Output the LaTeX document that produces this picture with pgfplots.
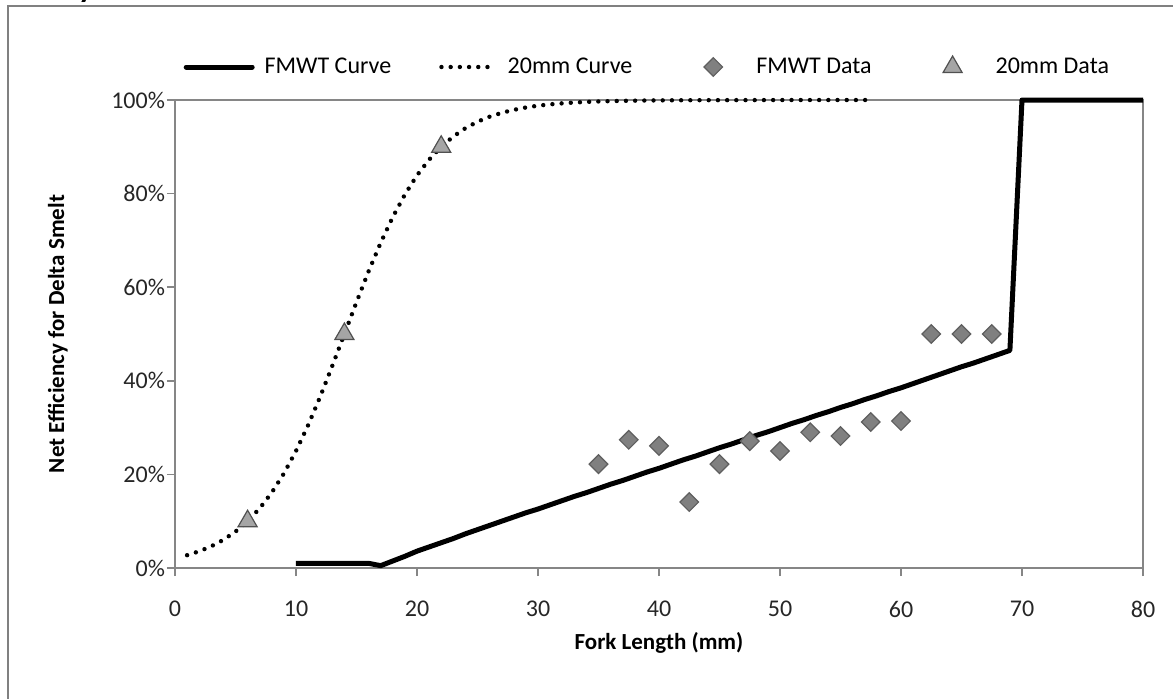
\documentclass[border=0pt]{standalone}
\usepackage{pgfplots}
\pgfplotsset{compat=1.18}
\usepackage{fontspec}
\setmainfont{Carlito}
\definecolor{axgray}{RGB}{134,134,134}
\definecolor{framegray}{RGB}{128,128,128}
\definecolor{dmfill}{RGB}{128,128,128}
\definecolor{dmdraw}{RGB}{95,95,95}
\definecolor{trfill}{RGB}{165,165,165}
\definecolor{trdraw}{RGB}{80,80,80}

\pgfplotsset{
  solidleg/.style={legend image code/.code={\draw[##1, line cap=round] (0pt,0pt) -- (33pt,0pt);}},
  dotleg/.style={legend image code/.code={\draw[##1] (6pt,0pt) -- (33pt,0pt);}},
  markleg/.style={legend image code/.code={\path[draw=none, fill=none] (0pt,0pt) -- (33pt,0pt); \path[##1, draw=none, fill=none] plot coordinates {(16.5pt,0pt)};}},
}

\pgfplotstableread{
x y
10 1
11 1
12 1
13 1
14 1
15 1
16 1
17 0.5
18 1.5
19 2.5
20 3.6
21 4.5
22 5.4
23 6.3
24 7.3
25 8.2
26 9.1
27 10.0
28 10.9
29 11.8
30 12.6
31 13.5
32 14.4
33 15.3
34 16.1
35 17.0
36 17.9
37 18.7
38 19.6
39 20.5
40 21.3
41 22.2
42 23.1
43 23.9
44 24.8
45 25.7
46 26.5
47 27.4
48 28.3
49 29.1
50 30.0
51 30.9
52 31.7
53 32.6
54 33.4
55 34.3
56 35.1
57 36.0
58 36.8
59 37.7
60 38.5
61 39.4
62 40.3
63 41.2
64 42.1
65 43.0
66 43.8
67 44.7
68 45.6
69 46.5
70 100
80 100
}\fmwtcurve

\pgfplotstableread{
x y
1 2.74
2 3.57
3 4.64
4 6.02
5 7.78
6 10.0
7 12.75
8 16.13
9 20.2
10 25.0
11 30.5
12 36.6
13 43.2
14 50.0
15 56.8
16 63.4
17 69.5
18 75.0
19 79.8
20 83.9
21 87.25
22 90.0
23 92.2
24 93.98
25 95.36
26 96.43
27 97.26
28 97.9
29 98.4
30 98.78
31 99.07
32 99.29
33 99.46
34 99.59
35 99.69
36 99.76
37 99.82
38 99.86
39 99.9
40 99.92
42 99.95
45 99.97
50 99.99
57.5 100
}\mmcurve

\pgfplotstableread{
x y
35 22.2
37.5 27.4
40 26.1
42.5 14.1
45 22.2
47.5 27.1
50 25.0
52.5 29.0
55 28.2
57.5 31.2
60 31.4
62.5 50
65 50
67.5 50
}\fmwtdata

\pgfplotstableread{
x y
6 10
14 50
22 90
}\mmdata

\begin{document}
\begin{tikzpicture}
\begin{axis}[
  at={(0pt,0pt)}, anchor=south west,
  scale only axis, width=484pt, height=234pt,
  xmin=0, xmax=80, ymin=0, ymax=100,
  xtick={0,10,...,80}, ytick={0,20,...,100},
  yticklabel={\pgfmathprintnumber{\tick}\%},
  /pgf/number format/assume math mode=true,
  tick label style={font=\fontsize{12}{14}\selectfont, text=black!85},
  xticklabel style={yshift=-9pt},
  yticklabel style={xshift=2.5pt},
  axis line style={axgray, line width=0.8pt},
  tick style={axgray, line width=0.8pt},
  tick align=outside, tick pos=left,
  major tick length=4pt,
  clip=false,
  xlabel={Fork Length (mm)},
  ylabel={Net Efficiency for Delta Smelt},
  label style={font=\bfseries\fontsize{11.5}{13}\selectfont},
  xlabel style={at={(axis description cs:0.5,-0.16)}, anchor=center},
  ylabel style={at={(axis description cs:-0.1209,0.5)}, anchor=center},
  legend columns=4,
  legend style={at={(axis description cs:0.489,1.0705)}, anchor=center,
    draw=none, fill=none, font=\fontsize{12}{14}\selectfont,
    /tikz/every odd column/.append style={column sep=3pt},
    /tikz/every even column/.append style={column sep=22pt},
    legend cell align=left},
]
\addplot[black, line width=2.5pt, line join=round, solidleg]
  table[x=x,y=y] {\fmwtcurve};
\addlegendentry{FMWT Curve}
\addplot[black, line width=2.2pt, line cap=round, dash pattern=on 0pt off 4.6pt, dotleg]
  table[x=x,y=y] {\mmcurve};
\addlegendentry{20mm Curve}
\addplot[only marks, mark=square*, mark size=3.3pt,
  mark options={rotate=45, fill=dmfill, draw=dmdraw, line width=0.6pt}, markleg]
  table[x=x,y=y] {\fmwtdata};
\addlegendentry{FMWT Data}
\addplot[only marks, mark=triangle*, mark size=5.5pt,
  mark options={fill=trfill, draw=trdraw, line width=0.6pt}, markleg]
  table[x=x,y=y] {\mmdata};
\addlegendentry{20mm Data}
\end{axis}
\begin{scope}
\clip (-87.5pt,-65pt) rectangle (499pt,284pt);
\draw[framegray, line width=1pt] (-83.5pt,-80pt) rectangle (520pt,281pt);
\node[font=\bfseries\fontsize{16}{18}\selectfont, anchor=base, inner sep=0pt] at (-44.5pt,285.5pt) {y};
\end{scope}
\pgfresetboundingbox
\path[use as bounding box] (-87.5pt,-65pt) rectangle (499pt,284pt);
\end{tikzpicture}
\end{document}
